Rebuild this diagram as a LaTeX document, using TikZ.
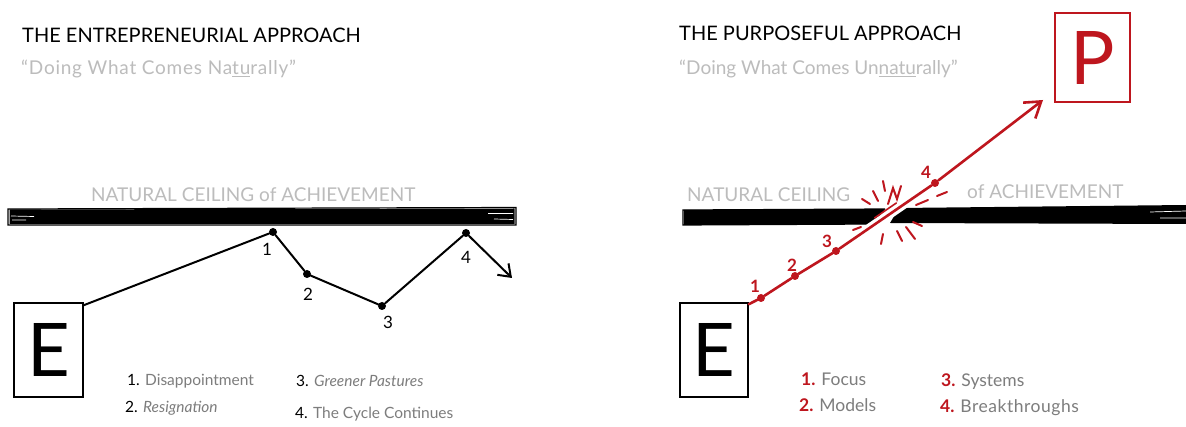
\documentclass[tikz,border=0pt]{standalone}
\usepackage{fontspec}
\setmainfont{Lato}
\usetikzlibrary{arrows.meta,calc}
\definecolor{hred}{RGB}{190,22,30}
\definecolor{lgray}{RGB}{188,188,188}
\definecolor{mgray}{RGB}{125,125,125}
\tikzset{
  titletxt/.style={anchor=base west,inner sep=0pt,font=\fontsize{20}{20}\selectfont},
  subtxt/.style={anchor=base west,inner sep=0pt,text=lgray,font=\fontsize{19}{19}\selectfont},
  ceiltxt/.style={anchor=base west,inner sep=0pt,text=lgray,font=\fontsize{19}{19}\selectfont},
  legtxt/.style={anchor=base west,inner sep=0pt,font=\fontsize{15.5}{15.5}\selectfont},
  rlegtxt/.style={anchor=base west,inner sep=0pt,font=\fontsize{17.5}{17.5}\selectfont},
  numtxt/.style={inner sep=0pt,font=\fontsize{17}{17}\selectfont},
  bignum/.style={inner sep=0pt,font=\fontsize{17}{17}\selectfont\bfseries,text=hred},
  letterbox/.style={draw,line width=1.6pt,inner sep=0pt,font=\fontsize{74}{74}\selectfont},
  bdot/.style={circle,fill=black,inner sep=0pt,minimum size=8pt},
  rdot/.style={circle,fill=hred,inner sep=0pt,minimum size=8pt},
  bline/.style={line width=2pt,line join=round,line cap=round},
  rline/.style={line width=2.6pt,hred,line join=round,line cap=round},
  burst/.style={hred,line width=2pt,line cap=round},
}
\begin{document}
\begin{tikzpicture}[x=1pt,y=-1pt]
\useasboundingbox[fill=white] (0,0) rectangle (1186,427);

% ---------------- left panel ----------------
\node[titletxt] (lt) at (22,43) {THE ENTREPRENEURIAL APPROACH};
\node[subtxt] (ls) at (21,75) {\addfontfeature{LetterSpace=4}``Doing What Comes Na\underline{tu}rally''};
\node[ceiltxt] (lc) at (91,202) {NATURAL CEILING of ACHIEVEMENT};

% ceiling bar
\draw[line width=1.2pt] (8,209) -- (516,207.5) -- (516,225) -- (8,225) -- cycle;
\fill (9.5,209.5) -- (514.5,208.5) -- (514.5,223.8) -- (9.5,223.8) -- cycle;
\draw[white,line width=0.7pt] (11,216) -- (34,216.5) (12,220) -- (26,220) (488,213.5) -- (513,213.5) (494,219) -- (513,219.5);

\node[letterbox,minimum width=69pt,minimum height=94pt] (le) at (48.5,350) {E};
\node[bdot] (l1) at (273,232) {};
\node[bdot] (l2) at (307,274) {};
\node[bdot] (l3) at (382,306) {};
\node[bdot] (l4) at (466,233) {};
\coordinate (lend) at (512,278);
\draw[bline] ($(le.north east)+(0,3)$) -- (l1) -- (l2) -- (l3) -- (l4);
\draw[bline,-{Straight Barb[length=11pt,width=16pt]}] (l4) -- (lend);
\node[numtxt] (n1) at (267,249) {1};
\node[numtxt] (n2) at (308,294) {2};
\node[numtxt] (n3) at (388,322) {3};
\node[numtxt] (n4) at (466,257) {4};

\node[legtxt] (a1) at (127,386) {1. \textcolor{mgray}{Disappointment}};
\node[legtxt] (a2) at (125,413) {2. \textcolor{mgray}{\itshape Resignation}};
\node[legtxt] (a3) at (296,387) {3. \textcolor{mgray}{\itshape Greener Pastures}};
\node[legtxt] (a4) at (295,418) {4. \textcolor{mgray}{The Cycle Continues}};

% ---------------- right panel ----------------
\node[titletxt] (rt) at (679,41) {THE PURPOSEFUL APPROACH};
\node[subtxt] (rs) at (679,75) {``Doing What Comes Un\underline{natu}rally''};
\node[ceiltxt] (rc1) at (687,202) {NATURAL CEILING};
\node[ceiltxt] (rc2) at (967,199) {of ACHIEVEMENT};

% broken ceiling bar
\fill (684,210) -- (885,209) -- (874,224) -- (684,225) -- cycle;
\draw[line width=1.2pt] (874,224) -- (683,225) -- (683,210) -- (885,209);
\fill (899,208) -- (1186,205) -- (1186,224) -- (890,223) -- cycle;
\draw[white,line width=0.7pt] (1150,212) -- (1186,211) (1160,218) -- (1186,218);

\node[letterbox,minimum width=68pt,minimum height=94pt] (re) at (714,350) {E};
\node[letterbox,draw=hred,text=hred,minimum width=75pt,minimum height=89pt] (p) at (1092.5,57.5) {P};
\node[rdot] (r1) at (761,298) {};
\node[rdot] (r2) at (795,276) {};
\node[rdot] (r3) at (836,251) {};
\node[rdot] (r4) at (935,183) {};
\coordinate (rtip) at (1043,100);

\draw[white,line width=9pt] ($(r3)!0.30!(r4)$) -- ($(r3)!0.76!(r4)$);
\draw[rline] ($(re.north east)+(0,2)$) -- (r1) -- (r2) -- (r3) -- (r4);
\draw[rline,-{Straight Barb[length=15pt,width=20pt]}] (r4) -- (rtip);
\draw[hred,line width=1.6pt,line cap=round] ($(r3)!0.42!(r4)+(-3,-4.5)$) -- ($(r3)!0.64!(r4)+(-3,-4.5)$);

% burst marks
\draw[burst] (862,199) -- (870,204);
\draw[burst] (873,191) -- (878,201);
\draw[burst] (883,181) -- (885,191);
\draw[burst] (888,204) -- (893,188) -- (897,199) -- (901,186);
\draw[burst] (853,230) -- (861,227);
\draw[burst] (883,234) -- (881,244);
\draw[burst] (897,231) -- (902,241);
\draw[burst] (906,227) -- (915,239);
\draw[burst] (913,222) -- (922,226);
\draw[burst] (916,205) -- (928,200);
\draw[burst] (937,196) -- (947,192);

\node[bignum] (m1) at (755,286) {1};
\node[bignum] (m2) at (792,265) {2};
\node[bignum] (m3) at (827,241) {3};
\node[bignum] (m4) at (926,172) {4};

\node[rlegtxt] (b1) at (801,386) {\textcolor{hred}{\bfseries 1.} \textcolor{mgray}{Focus}};
\node[rlegtxt] (b2) at (799,412) {\textcolor{hred}{\bfseries 2.} \textcolor{mgray}{Models}};
\node[rlegtxt] (b3) at (941,387) {\textcolor{hred}{\bfseries 3.} \textcolor{mgray}{Systems}};
\node[rlegtxt] (b4) at (940,413) {\textcolor{hred}{\bfseries 4.} \textcolor{mgray}{\addfontfeature{LetterSpace=3}Breakthroughs}};
\end{tikzpicture}
\end{document}
